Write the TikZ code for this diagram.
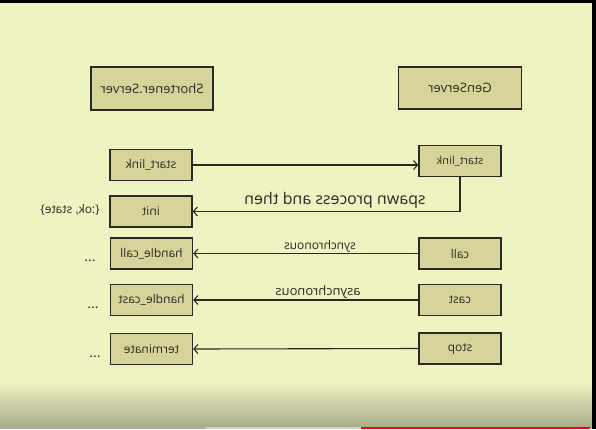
\documentclass[tikz,border=0pt]{standalone}
\usepackage{fontspec}
\setmainfont{Open Sans}
\usetikzlibrary{arrows.meta}
\definecolor{bg}{HTML}{EFF2C1}
\definecolor{bgdark}{HTML}{A9AC8D}
\definecolor{boxfill}{HTML}{D7D49B}
\definecolor{ink}{HTML}{2A2A22}
\definecolor{barred}{HTML}{FF0000}
\definecolor{bargray}{HTML}{B0B398}
\definecolor{barlight}{HTML}{D3D3C3}
\begin{document}
\begin{tikzpicture}[x=1pt,y=-1pt,
  blk/.style={draw=ink, line width=1.4pt, fill=boxfill, inner sep=0pt,
    minimum width=82pt, minimum height=31pt},
  mt/.style={xscale=-1, transform shape, inner sep=0pt, text=ink,
    font=\fontsize{12}{14}\selectfont},
  conn/.style={draw=ink, line width=1.1pt},
  tipd/.style={-{Straight Barb[length=4pt,width=9pt,line width=1.1pt]}}]
\useasboundingbox (0,0) rectangle (596,429);
\fill[bg] (0,0) rectangle (596,429);
\shade[top color=bg, bottom color=bgdark] (0,382) rectangle (592,427);
\fill[black] (0,0) rectangle (596,3);
\fill[black] (592,0) rectangle (596,429);
\fill[bargray] (0,427) rectangle (206,429);
\fill[barlight] (206,427) rectangle (361,429);
\fill[barred] (361,427) rectangle (590,429);

% boxes
\node[blk, minimum width=122pt, minimum height=43pt] (shs) at (152,88.5) {};
\node[blk, minimum width=123pt, minimum height=42pt] (gen) at (460,88) {};
\node[blk] (sl) at (151,165) {};
\node[blk] (sr) at (460,161) {};
\node[blk] (init) at (151,211.5) {};
\node[blk] (hcall) at (151.5,253.5) {};
\node[blk] (call) at (460,253.5) {};
\node[blk] (hcast) at (151.5,300) {};
\node[blk] (cast) at (460,300) {};
\node[blk] (term) at (151.5,349) {};
\node[blk] (stop) at (460,348.5) {};

% mirrored box texts
\node[mt, font=\fontsize{13}{15}\selectfont] (shs-t) at (shs) {Shortener.Server};
\node[mt, font=\fontsize{13}{15}\selectfont] (gen-t) at (gen) {GenServer};
\node[mt] (sl-t) at (sl) {start\_link};
\node[mt, font=\fontsize{11}{13}\selectfont] (sr-t) at (sr) {start\_link};
\node[mt] (init-t) at (init) {init};
\node[mt] (hcall-t) at (hcall) {handle\_call};
\node[mt] (call-t) at (call) {call};
\node[mt] (hcast-t) at (hcast) {handle\_cast};
\node[mt] (cast-t) at (cast) {cast};
\node[mt] (term-t) at (term) {terminate};
\node[mt] (stop-t) at (stop) {stop};

% connectors
\draw[conn, tipd] (sl.east) -- (sl.east -| sr.west);
\draw[conn, tipd] (sr.south) |- (init.east);
\draw[conn, tipd] (call.west) -- (hcall.east);
\draw[conn, tipd] (cast.west) -- (hcast.east);
\draw[conn, tipd] (stop.west) -- (term.east);

% labels
\node[mt, font=\fontsize{16}{18}\selectfont] (lspawn) at (335,200) {spawn process and then};
\node[mt] (lsync) at (320,246) {synchronous};
\node[mt, font=\fontsize{13}{15}\selectfont] (lasync) at (318,292) {asynchronous};
\node[mt] (okst) at (70,210) {\{:ok, state\}};

\node[mt, font=\fontsize{14}{16}\selectfont] (d1) at (90,261) {...};
\node[mt, font=\fontsize{14}{16}\selectfont] (d2) at (93,308) {...};
\node[mt, font=\fontsize{14}{16}\selectfont] (d3) at (95,357) {...};
\end{tikzpicture}
\end{document}
